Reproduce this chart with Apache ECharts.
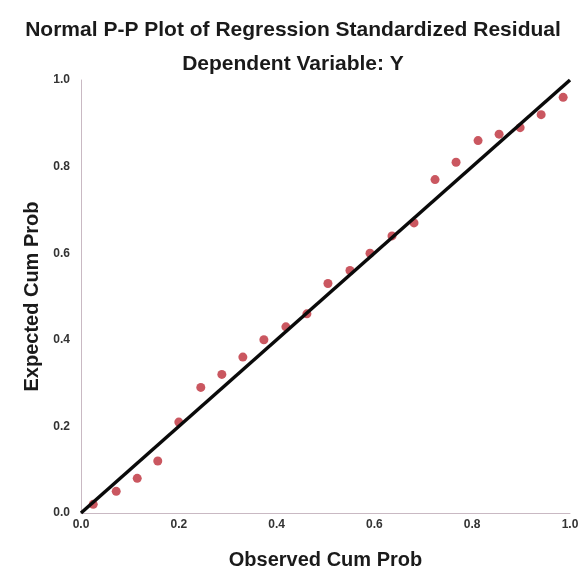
<!DOCTYPE html>
<html>
<head>
<meta charset="utf-8">
<script src="https://cdn.jsdelivr.net/npm/echarts@6/dist/echarts.min.js"></script>
<style>
  html, body { margin: 0; padding: 0; background: #fff; }
  #chart { width: 586px; height: 575px; }
</style>
</head>
<body>
<div id="chart"></div>
<script>
  // observed cumulative probability (x) and expected cumulative probability (y)
  const observedCum = [0.025, 0.072, 0.115, 0.157, 0.200, 0.245, 0.288, 0.331, 0.374, 0.419, 0.462, 0.505,
    0.550, 0.591, 0.636, 0.681, 0.724, 0.767, 0.812, 0.855, 0.898, 0.941, 0.986];
  const expectedCum = [0.02, 0.05, 0.08, 0.12, 0.21, 0.29, 0.32, 0.36, 0.40, 0.43, 0.46, 0.53,
    0.56, 0.60, 0.64, 0.67, 0.77, 0.81, 0.86, 0.875, 0.89, 0.92, 0.96];
  // reference diagonal
  const diagonal = [[0, 0], [1, 1]];
  const tickLabels = ['0.0', '0.2', '0.4', '0.6', '0.8', '1.0'];

  const points = observedCum.map((x, i) => [x, expectedCum[i]]);
  const fontFamily = 'Liberation Sans, Arial, sans-serif';

  const chart = echarts.init(document.getElementById('chart'));

  const axisCommon = {
    type: 'value',
    min: 0,
    max: 1,
    interval: 0.2,
    nameLocation: 'middle',
    nameTextStyle: { fontFamily, fontWeight: 'bold', fontSize: 20, color: '#1a1a1a' },
    axisLine: { show: true, lineStyle: { color: '#c9b9c3', width: 1 } },
    axisTick: { show: false },
    splitLine: { show: false },
    axisLabel: {
      fontFamily,
      fontWeight: 'bold',
      fontSize: 12,
      color: '#333',
      formatter: (v) => tickLabels[Math.round(v * 5)],
    },
  };

  chart.setOption({
    animation: false,
    backgroundColor: '#fff',
    title: [
      {
        text: 'Normal P-P Plot of Regression Standardized Residual',
        left: 'center',
        top: 15,
        textStyle: { fontFamily, fontWeight: 'bold', fontSize: 21, color: '#1a1a1a' },
      },
      {
        text: 'Dependent Variable: Y',
        left: 'center',
        top: 49,
        textStyle: { fontFamily, fontWeight: 'bold', fontSize: 21, color: '#1a1a1a' },
      },
    ],
    grid: { left: 81, right: 16, top: 80, bottom: 60 },
    xAxis: {
      ...axisCommon,
      name: 'Observed Cum Prob',
      nameGap: 37,
      axisLabel: { ...axisCommon.axisLabel, margin: 6 },
    },
    yAxis: {
      ...axisCommon,
      name: 'Expected Cum Prob',
      nameGap: 38,
      axisLabel: { ...axisCommon.axisLabel, margin: 11 },
    },
    series: [
      {
        type: 'scatter',
        data: points,
        symbolSize: 9,
        itemStyle: { color: '#c4454f', opacity: 0.9 },
        z: 2,
      },
      {
        type: 'line',
        data: diagonal,
        symbol: 'none',
        lineStyle: { color: '#0a0a0a', width: 3.5 },
        z: 3,
      },
    ],
  });
</script>
</body>
</html>
